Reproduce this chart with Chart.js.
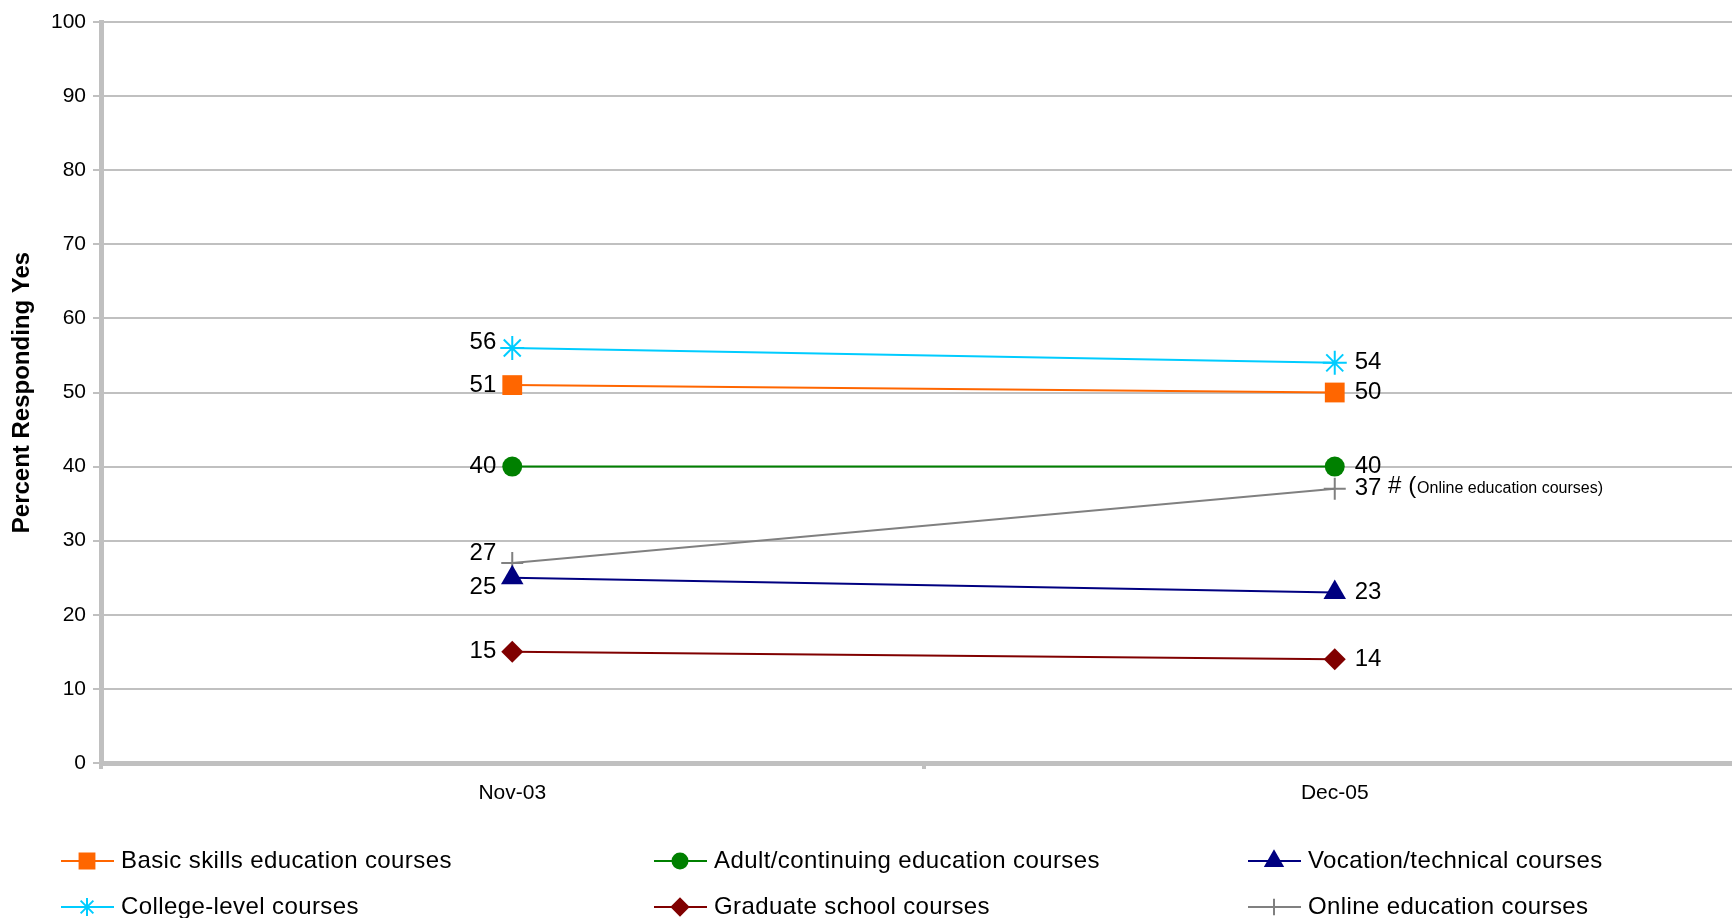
<!DOCTYPE html>
<html>
<head>
    <script src="https://cdn.jsdelivr.net/npm/chart.js@4/dist/chart.umd.min.js"></script>
    <style>
        html, body { margin: 0; padding: 0; background: #fff; overflow: hidden; }
        #wrap { position: relative; width: 1760px; height: 918px; }
    </style>
</head>
<body>
<div id="wrap"><canvas id="chart"></canvas></div>
<script>
    // data
    const categories = ['Nov-03', 'Dec-05'];
    const seriesNames = [
        'Basic skills education courses',
        'Adult/continuing education courses',
        'Vocation/technical courses',
        'College-level courses',
        'Graduate school courses',
        'Online education courses'
    ];
    const basicSkills = [51, 50];
    const adultContinuing = [40, 40];
    const vocationTechnical = [25, 23];
    const collegeLevel = [56, 54];
    const graduateSchool = [15, 14];
    const onlineEducation = [27, 37];
    const yTickMin = 0, yTickMax = 100, yTickStep = 10;
    const yTitle = 'Percent Responding Yes';
    const onlineNote = 'Online education courses)';

    const colors = ['#FF6600', '#008000', '#000080', '#00CCFF', '#800000', '#808080'];
    const styles = ['rect', 'circle', 'triangle', 'star', 'rectRot', 'cross'];
    const radii = [14, 10, 13, 12, 11, 11];
    const allValues = [basicSkills, adultContinuing, vocationTechnical, collegeLevel, graduateSchool, onlineEducation];

    const FONT = '"Liberation Sans", Arial, sans-serif';

    const datasets = allValues.map((vals, i) => ({
        label: seriesNames[i],
        data: vals,
        borderColor: colors[i],
        backgroundColor: colors[i],
        borderWidth: 2,
        pointStyle: styles[i],
        pointRadius: radii[i],
        pointHoverRadius: radii[i],
        pointBorderWidth: (styles[i] == 'star' || styles[i] == 'cross') ? 2 : 0,
        pointBackgroundColor: colors[i],
        pointBorderColor: colors[i],
        tension: 0
    }));

    // small vertical nudges for left labels that would collide
    const leftNudge = { 3: -6, 5: -10, 2: 10 };

    const valueLabels = {
        id: 'valueLabels',
        afterDatasetsDraw(chart) {
            const ctx = chart.ctx;
            ctx.save();
            ctx.fillStyle = '#000';
            ctx.textBaseline = 'middle';
            chart.data.datasets.forEach((ds, i) => {
                const meta = chart.getDatasetMeta(i);
                const p0 = meta.data[0], p1 = meta.data[1];
                ctx.font = '24px ' + FONT;
                ctx.textAlign = 'right';
                ctx.fillText(String(ds.data[0]), p0.x - 16, p0.y + (leftNudge[i] || 0));
                ctx.textAlign = 'left';
                let txt = String(ds.data[1]);
                ctx.fillText(txt, p1.x + 20, p1.y);
                if (i == 5) {
                    let x = p1.x + 20 + ctx.measureText(txt + ' ').width;
                    ctx.fillText('# (', x, p1.y - 2);
                    x += ctx.measureText('# (').width + 1;
                    ctx.font = '16px ' + FONT;
                    ctx.fillText(onlineNote, x, p1.y);
                }
            });
            ctx.restore();
        }
    };

    const customLegend = {
        id: 'customLegend',
        afterDraw(chart) {
            const ctx = chart.ctx;
            const colX = [61, 654, 1248];
            const rowY = [861, 907];
            ctx.save();
            chart.data.datasets.forEach((ds, i) => {
                const x = colX[i % 3], y = rowY[Math.floor(i / 3)];
                ctx.strokeStyle = colors[i];
                ctx.lineWidth = 2;
                ctx.beginPath();
                ctx.moveTo(x, y);
                ctx.lineTo(x + 53, y);
                ctx.stroke();
                ctx.fillStyle = colors[i];
                Chart.helpers.drawPoint(ctx, {
                    pointStyle: styles[i],
                    radius: radii[i] * 0.75,
                    rotation: 0,
                    borderWidth: 2
                }, x + 26, y);
                ctx.fillStyle = '#000';
                ctx.font = '24px ' + FONT;
                ctx.letterSpacing = '0.4px';
                ctx.textAlign = 'left';
                ctx.textBaseline = 'middle';
                ctx.fillText(ds.label, x + 60, y);
                ctx.letterSpacing = '0px';
            });
            ctx.restore();
        }
    };

    new Chart('chart', {
        type: 'line',
        data: { labels: categories, datasets: datasets },
        plugins: [valueLabels, customLegend],
        options: {
            responsive: true,
            maintainAspectRatio: false,
            animation: false,
            layout: { padding: { left: 0, right: 13, top: 22, bottom: 0 } },
            plugins: {
                legend: { display: false },
                tooltip: { enabled: false }
            },
            scales: {
                x: {
                    offset: true,
                    afterFit(scale) { scale.height = 155; },
                    grid: {
                        offset: true,
                        drawOnChartArea: false,
                        drawTicks: true,
                        tickLength: 6,
                        color: '#c0c0c0',
                        lineWidth: 4
                    },
                    border: { color: '#c0c0c0', width: 5 },
                    ticks: {
                        color: '#000',
                        padding: 12,
                        font: { family: FONT, size: 21 }
                    }
                },
                y: {
                    min: yTickMin,
                    max: yTickMax,
                    afterFit(scale) { scale.width = 101; },
                    grid: {
                        color: '#c0c0c0',
                        lineWidth: 2,
                        tickLength: 8
                    },
                    border: { color: '#c0c0c0', width: 5 },
                    ticks: {
                        stepSize: yTickStep,
                        color: '#000',
                        padding: 7,
                        font: { family: FONT, size: 21 }
                    },
                    title: {
                        display: true,
                        text: yTitle,
                        color: '#000',
                        padding: { top: 8, bottom: 0 },
                        font: { family: FONT, size: 24, weight: 'bold' }
                    }
                }
            }
        }
    });
</script>
</body>
</html>
